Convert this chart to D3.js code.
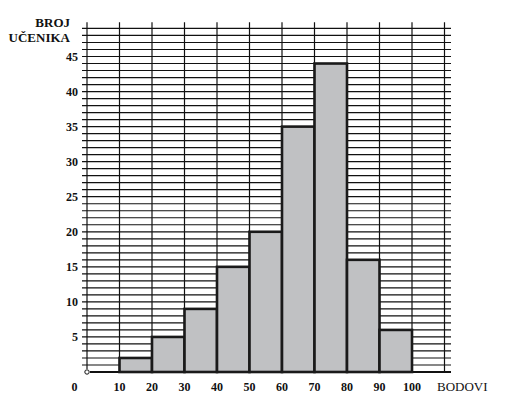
<!DOCTYPE html>
<html><head><meta charset="utf-8">
<script src="https://cdn.jsdelivr.net/npm/d3@7"></script>
<style>
html,body{margin:0;padding:0;background:#fff;}
svg{display:block;}
</style></head><body>
<script>
const binStarts = [10,20,30,40,50,60,70,80,90];
const binWidth = 10;
const counts = [2,5,9,15,20,35,44,16,6];
const yTickValues = [5,10,15,20,25,30,35,40,45];
const xTickValues = [10,20,30,40,50,60,70,80,90,100];
const yLabel = ["BROJ","UČENIKA"];
const xLabel = "BODOVI";

const FONT="'Liberation Serif', 'DejaVu Serif', serif";
const W=507,H=400;
const svg=d3.select("body").append("svg").attr("width",W).attr("height",H)
  .style("font-family",FONT);
const x=d3.scaleLinear().domain([0,110]).range([87,444.5]);
const y=d3.scaleLinear().domain([0,45]).range([372,56.5]);

const grid=svg.append("g").attr("stroke","#111").attr("stroke-width",1.2);
grid.selectAll("line.h").data(d3.range(1,50)).join("line")
  .attr("x1",x(0)-5).attr("x2",x(110)+6.5)
  .attr("y1",d=>y(d)).attr("y2",d=>y(d));
grid.selectAll("line.v").data(d3.range(10,111,10)).join("line")
  .attr("x1",d=>x(d)).attr("x2",d=>x(d))
  .attr("y1",y(49.9)).attr("y2",y(0));
grid.append("line").attr("x1",x(0)).attr("x2",x(0)).attr("y1",y(49.9)).attr("y2",y(0)-3);
svg.append("line").attr("x1",x(0)+3).attr("x2",x(110)+6.5).attr("y1",y(0)).attr("y2",y(0))
  .attr("stroke","#111").attr("stroke-width",2);
svg.append("circle").attr("cx",x(0)).attr("cy",y(0)).attr("r",2.2)
  .attr("fill","#fff").attr("stroke","#111").attr("stroke-width",1);

svg.append("g").selectAll("rect").data(counts).join("rect")
  .attr("x",(d,i)=>x(binStarts[i]))
  .attr("width",(d,i)=>x(binStarts[i]+binWidth)-x(binStarts[i]))
  .attr("y",d=>y(d)).attr("height",d=>y(0)-y(d))
  .attr("fill","#c0c1c3").attr("stroke","#1a1a1a").attr("stroke-width",2.6);

function txt(sel){return sel.attr("font-family",FONT).attr("fill","#111");}
txt(svg.append("g").selectAll("text").data(yTickValues).join("text"))
  .attr("x",78).attr("y",d=>y(d)+4).attr("text-anchor","end")
  .attr("font-size",12).attr("font-weight","bold").text(d=>d);
txt(svg.append("g").selectAll("text").data(xTickValues).join("text"))
  .attr("x",d=>x(d)).attr("y",391).attr("text-anchor","middle")
  .attr("font-size",12).attr("font-weight","bold").text(d=>d);
txt(svg.append("text")).attr("x",74.5).attr("y",391).attr("text-anchor","middle")
  .attr("font-size",12).attr("font-weight","bold").text("0");

txt(svg.append("g").selectAll("text").data(yLabel).join("text"))
  .attr("x",70).attr("y",(d,i)=>27+i*15).attr("text-anchor","end")
  .attr("font-size",13).attr("font-weight","bold").text(d=>d);
txt(svg.append("text")).attr("x",437).attr("y",391)
  .attr("font-size",13).text(xLabel);
</script>
</body></html>
